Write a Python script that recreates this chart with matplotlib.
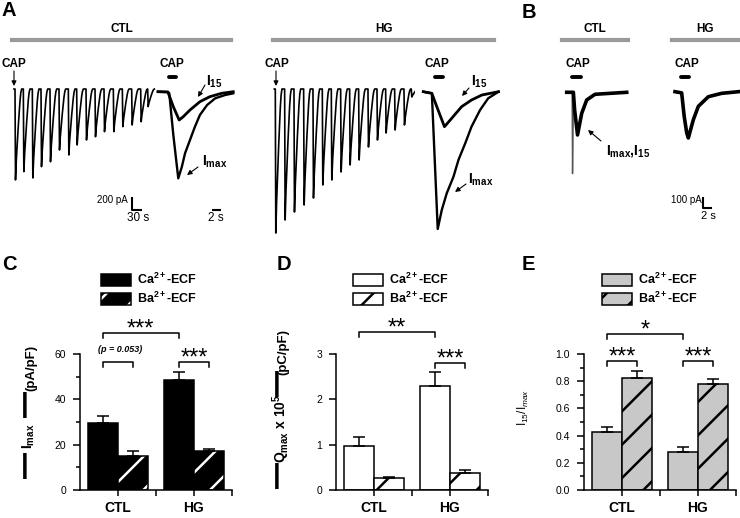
import numpy as np
import matplotlib.pyplot as plt
from matplotlib.patches import Patch
from matplotlib.lines import Line2D

plt.rcParams['font.family'] = ['Liberation Sans', 'DejaVu Sans']
plt.rcParams['mathtext.fontset'] = 'custom'
plt.rcParams['mathtext.rm'] = 'Liberation Sans'
plt.rcParams['mathtext.bf'] = 'Liberation Sans:bold'
plt.rcParams['mathtext.it'] = 'Liberation Sans:italic'
plt.rcParams['hatch.linewidth'] = 1.8

# ---------------- data ----------------
# A: CAP pulse trains (onset in s, peak inward current in pA)
ctl_train_t = [0, 25, 52, 78, 105, 132, 160, 185, 213, 240, 267, 295, 322, 350, 377, 398]
ctl_train_amp = [1400, 1273, 1370, 1196, 1120, 940, 1016, 862, 785, 735, 657, 657, 580, 554, 504, 272]
hg_train_t = [0, 28, 56, 85, 113, 141, 168, 196, 223, 250, 278, 305, 331, 358, 386, 408]
hg_train_amp = [2218, 2017, 1894, 1786, 1679, 1478, 1401, 1278, 1170, 1093, 893, 785, 678, 631, 554, 123]
# shape of one response in the train (s after onset, fraction of peak)
pulse_t = [0, 1.5, 4, 7, 10, 12.5, 15, 17.5, 20]
pulse_frac = [0, 1, 0.78, 0.58, 0.4, 0.26, 0.13, 0.04, 0]

# A: expanded first (Imax) and last (I15) responses
ctl_imax_t = [0, 2.2, 2.5, 3.4, 4.5, 5.3, 6.0, 7.1, 8.2, 9.3, 10.9, 12.7, 14.9, 16.7]
ctl_imax_i = [0, -5, -25, -665, -1334, -1155, -949, -744, -539, -359, -205, -102, -51, -25]
ctl_i15_t = [0, 2.2, 3.4, 4.7, 5.6, 7.1, 9.3, 11.5, 14.1, 16.7]
ctl_i15_i = [0, -5, -231, -436, -385, -282, -154, -77, -25, 0]
hg_imax_t = [0, 1.9, 3.2, 4.1, 5.2, 6.7, 7.8, 9.3, 10.7, 12.6, 14.4, 16.7]
hg_imax_i = [0, -25, -2114, -1822, -1565, -1309, -1052, -796, -539, -282, -102, 0]
hg_i15_t = [0, 1.9, 3.0, 4.7, 6.3, 8.5, 10.7, 13.0, 16.7]
hg_i15_i = [0, -25, -231, -539, -410, -231, -128, -51, 0]

# B: Ba2+-ECF responses
b_ctl_t = [0, 1.6, 1.9, 2.6, 3.6, 4.8, 6.8, 14.4]
b_ctl_i = [0, 0, -152, -367, -181, -66, -17, 0]
b_ctl_spike_t = [1.3, 1.4, 1.6]
b_ctl_spike_i = [0, -700, -100]
b_hg_t = [0, 1.6, 2.2, 2.8, 3.2, 4.4, 5.6, 8.0, 11.2, 15.2]
b_hg_i = [0, -10, -210, -352, -398, -241, -126, -43, -14, 0]

# C-E: summary bars
groups = ['CTL', 'HG']
c_ca, c_ca_err = [29.7, 48.5], [2.9, 3.4]
c_ba, c_ba_err = [15.1, 17.2], [2.1, 0.8]
d_ca, d_ca_err = [0.98, 2.30], [0.18, 0.31]
d_ba, d_ba_err = [0.26, 0.37], [0.03, 0.07]
e_ca, e_ca_err = [0.43, 0.28], [0.035, 0.035]
e_ba, e_ba_err = [0.82, 0.78], [0.055, 0.035]

# ---------------- figure ----------------
W, H = 740, 518
fig = plt.figure(figsize=(W / 100, H / 100), dpi=100)


def fx(x):
    return x / W


def fy(y):
    return 1 - y / H


def trace_axes(left, top, width, height, t0px, basepx, s_px, pa_px):
    ax = fig.add_axes([fx(left), fy(top + height), width / W, height / H])
    ax.set_xlim((left - t0px) * s_px, (left + width - t0px) * s_px)
    ax.set_ylim(-(top + height - basepx) * pa_px, (basepx - top) * pa_px)
    ax.axis('off')
    return ax


def train_trace(onsets, amps):
    t, i = [onsets[0] - 3], [0]
    for k, (t0, a) in enumerate(zip(onsets, amps)):
        nxt = onsets[k + 1] if k + 1 < len(onsets) else np.inf
        for dt, f in zip(pulse_t, pulse_frac):
            if t0 + dt < nxt:
                t.append(t0 + dt)
                i.append(-a * f)
    return t, i


def txt(x, y, s, size=8.5, weight='bold', **kw):
    fig.text(fx(x), fy(y), s, ha='center', va='center', fontsize=size,
             fontweight=weight, **kw)


def arrow(ax, x0, y0, x1, y1, ms=7):
    ax.annotate('', xy=(fx(x1), fy(y1)), xytext=(fx(x0), fy(y0)),
                xycoords='figure fraction', textcoords='figure fraction',
                arrowprops=dict(arrowstyle='-|>', color='black', lw=0.8,
                                mutation_scale=ms, shrinkA=0, shrinkB=0),
                annotation_clip=False)


# panel letters
for letter, x, y in [('A', 9, 11), ('B', 529, 12), ('C', 9, 264), ('D', 284, 264), ('E', 528, 264)]:
    txt(x, y, letter, size=14.5)

# grey condition bars
for x0, x1, lab in [(12, 231, 'CTL'), (273, 494, 'HG'), (562, 628, 'CTL'), (672, 738, 'HG')]:
    fig.add_artist(Line2D([fx(x0), fx(x1)], [fy(40), fy(40)], transform=fig.transFigure,
                          color='#9a9a9a', lw=3))
    txt((x0 + x1) / 2, 29, lab, size=8.5)

# CAP labels
for x in [14, 277, 171.5, 437, 578, 687]:
    txt(x, 64, 'CAP', size=8.5)

# ---- A traces ----
ax1 = trace_axes(0, 50, 160, 190, 15, 89, 3.0, 15.4)
t, i = train_trace(ctl_train_t, ctl_train_amp)
ax1.plot(t, i, color='black', lw=1.2)
ax1.plot([351, 351, 381], [-1663, -1863, -1863], color='black', lw=1.5, solid_capstyle='butt')
arrow(ax1, 14, 71, 14, 86)

ax2 = trace_axes(155, 50, 85, 190, 158, 91.7, 0.222, 15.4)
ax2.plot(ctl_imax_t, ctl_imax_i, color='black', lw=1.7)
ax2.plot(ctl_i15_t, ctl_i15_i, color='black', lw=2.0)
ax2.plot([2.4, 4.0], [226, 226], color='black', lw=2.8, solid_capstyle='round')
ax2.plot([11.9, 13.9], [-1822, -1822], color='black', lw=1.5, solid_capstyle='butt')

ax3 = trace_axes(265, 50, 150, 190, 275.3, 89, 3.0, 15.4)
t, i = train_trace(hg_train_t, hg_train_amp)
ax3.plot(t, i, color='black', lw=1.2)
arrow(ax3, 276, 71, 276, 86)

ax4 = trace_axes(418, 50, 85, 190, 423.3, 91.7, 0.222, 15.4)
ax4.plot(hg_imax_t, hg_imax_i, color='black', lw=1.7)
ax4.plot(hg_i15_t, hg_i15_i, color='black', lw=2.0)
ax4.plot([2.6, 4.4], [226, 226], color='black', lw=2.8, solid_capstyle='round')

# ---- B traces ----
ax5 = trace_axes(560, 50, 75, 190, 566.7, 92.3, 0.24, 8.6)
ax5.plot(b_ctl_spike_t, b_ctl_spike_i, color='#555555', lw=1.0)
ax5.plot(b_ctl_t, b_ctl_i, color='black', lw=2.6)
ax5.plot([1.3, 3.4], [132, 132], color='black', lw=2.8, solid_capstyle='round')

ax6 = trace_axes(668, 50, 72, 190, 675, 91.7, 0.24, 8.6)
ax6.plot(b_hg_t, b_hg_i, color='black', lw=2.6)
ax6.plot([1.4, 3.4], [126, 126], color='black', lw=2.8, solid_capstyle='round')
ax6.plot([6.8, 6.8, 8.8], [-903, -1003, -1003], color='black', lw=1.5, solid_capstyle='butt')

# scale bar texts
txt(112, 200, '200 pA', size=7, weight='normal')
txt(138, 218, '30 s', size=8.5, weight='normal')
txt(216, 218, '2 s', size=8.5, weight='normal')
txt(686, 200, '100 pA', size=7, weight='normal')
txt(708, 216, '2 s', size=8, weight='normal')

# annotations
txt(214, 82, r'$\mathbf{I_{15}}$', size=10)
arrow(ax2, 205, 85, 198, 97)
txt(215, 162, r'$\mathbf{I_{max}}$', size=10)
arrow(ax2, 198, 167, 187, 175)
txt(479, 82, r'$\mathbf{I_{15}}$', size=10)
arrow(ax4, 469, 88, 462, 96)
txt(481, 180, r'$\mathbf{I_{max}}$', size=10)
arrow(ax4, 466, 184, 455, 192)
txt(628, 151, r'$\mathbf{I_{max}}$,$\mathbf{I_{15}}$', size=10)
arrow(ax5, 601, 141, 588, 130)

# ---------------- bar panels ----------------
ekw = dict(elinewidth=1.1, capthick=1.1, capsize=4.5, ecolor='black', zorder=4)


def bar_panel(left, ca, ca_err, ba, ba_err, face, ylim, major, minor, ticklabels):
    ax = fig.add_axes([fx(left), fy(490), 152 / W, 136 / H])
    x = np.arange(len(groups))
    w = 0.4
    zeros = np.zeros(len(groups))
    ax.bar(x - w / 2, ca, w, color=face, edgecolor='black', lw=1.1,
           yerr=[zeros, ca_err], error_kw=ekw, zorder=2)
    if face == 'black':
        ax.bar(x + w / 2, ba, w, color='black', edgecolor='white', hatch='/', lw=0, zorder=2)
        ax.bar(x + w / 2, ba, w, fill=False, edgecolor='black', lw=1.1,
               yerr=[zeros, ba_err], error_kw=ekw, zorder=3)
    else:
        ax.bar(x + w / 2, ba, w, color=face, edgecolor='black', hatch='/', lw=1.1,
               yerr=[zeros, ba_err], error_kw=ekw, zorder=2)
    ax.set_xlim(-0.5, 1.5)
    ax.set_ylim(*ylim)
    ax.set_yticks(major)
    ax.set_yticklabels(ticklabels)
    ax.set_yticks(minor, minor=True)
    ax.set_xticks(x)
    ax.set_xticklabels(groups, fontweight='bold', fontsize=10)
    ax.set_xticks([0.5, 1.5], minor=True)
    ax.tick_params(axis='y', which='major', length=5, width=1.1, pad=5, labelsize=7.5)
    ax.tick_params(axis='y', which='minor', length=3, width=1.1)
    ax.tick_params(axis='x', which='both', length=4, width=1.1, pad=4)
    for s in ['top', 'right']:
        ax.spines[s].set_visible(False)
    for s in ['left', 'bottom']:
        ax.spines[s].set_linewidth(1.1)
    return ax


def bracket(ax, x1, x2, y, h, label, size=17, dy=-2):
    ax.plot([x1, x1, x2, x2], [y - h, y, y, y - h], color='black', lw=1.1, clip_on=False)
    ax.annotate(label, xy=((x1 + x2) / 2, y), xytext=(0, dy), textcoords='offset points',
                ha='center', va='baseline', fontsize=size, annotation_clip=False)


def legend(ax, x, y, h_ca, h_ba):
    ax.legend([h_ca, h_ba], [r'Ca$^{\mathbf{2+}}$-ECF', r'Ba$^{\mathbf{2+}}$-ECF'],
              loc='upper left', bbox_to_anchor=(fx(x), fy(y)), bbox_transform=fig.transFigure,
              frameon=False, borderpad=0, borderaxespad=0, handlelength=2.4, handleheight=1.05,
              handletextpad=0.45, labelspacing=0.3, prop=dict(weight='bold', size=9))


axC = bar_panel(80, c_ca, c_ca_err, c_ba, c_ba_err, 'black', (0, 60),
                [0, 20, 40, 60], [10, 30, 50], ['0', '20', '40', '60'])
bracket(axC, -0.2, 0.8, 69.3, 2.2, '***')
bracket(axC, -0.2, 0.2, 56.5, 2.2, '')
bracket(axC, 0.8, 1.2, 56.5, 2.2, '***')
axC.text(0.03, 61.8, '(p = 0.053)', ha='center', va='center', fontsize=6.5,
         fontweight='bold', fontstyle='italic')
legend(axC, 101, 272, Patch(fc='black', ec='black', lw=1.1),
       (Patch(fc='black', ec='white', hatch='/', lw=0), Patch(fill=False, ec='black', lw=1.1)))

axD = bar_panel(336, d_ca, d_ca_err, d_ba, d_ba_err, 'white', (0, 3),
                [0, 1, 2, 3], [], ['0', '1', '2', '3'])
bracket(axD, -0.2, 0.8, 3.49, 0.11, '**')
bracket(axD, 0.8, 1.2, 2.80, 0.11, '***')
legend(axD, 353, 272, Patch(fc='white', ec='black', lw=1.1),
       Patch(fc='white', ec='black', hatch='/', lw=1.1))

axE = bar_panel(584, e_ca, e_ca_err, e_ba, e_ba_err, '#c8c8c8', (0, 1),
                [0, 0.2, 0.4, 0.6, 0.8, 1.0], [0.1, 0.3, 0.5, 0.7, 0.9],
                ['0.0', '0.2', '0.4', '0.6', '0.8', '1.0'])
bracket(axE, -0.2, 0.8, 1.147, 0.037, '*')
bracket(axE, -0.2, 0.2, 0.949, 0.037, '***')
bracket(axE, 0.8, 1.2, 0.949, 0.037, '***')
legend(axE, 602, 272, Patch(fc='#c8c8c8', ec='black', lw=1.1),
       Patch(fc='#c8c8c8', ec='black', hatch='/', lw=1.1))

# y labels: vertical bars stay upright, words read bottom-to-top
for s, x, y, size, rot in [('|', 25, 466, 20, 0), (r'$\mathbf{I_{max}}$', 29, 436, 10, 90),
                           ('|', 25, 405, 20, 0), ('(pA/pF)', 31, 368, 9.5, 90)]:
    txt(x, y, s, size=size, rotation=rot)
for s, x, y, size, rot in [('|', 277, 476, 20, 0), (r'$\mathbf{Q_{max}\ x\ 10^5}$', 281, 429, 10, 90),
                           ('|', 277, 384, 20, 0), ('(pC/pF)', 283, 352, 9.5, 90)]:
    txt(x, y, s, size=size, rotation=rot)
txt(523, 407, r'I$_{15}$/I$_{max}$', size=8.5, weight='normal', rotation=90)

fig.savefig('out.png', dpi=100)
